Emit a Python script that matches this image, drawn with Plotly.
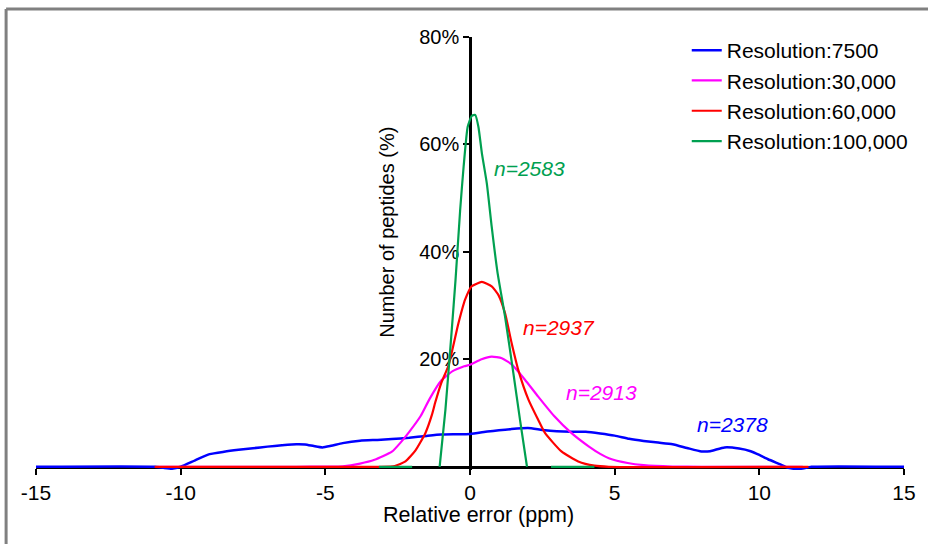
import plotly.graph_objects as go

# Mass-error distributions (percentage of peptides) per resolution setting
x_7500 = [-15, -10.9, -10.6, -10.3, -10.0, -9.5, -9.0, -8.5, -8.0, -7.5, -7.0, -6.5, -6.0, -5.7,
          -5.4, -5.1, -4.8, -4.4, -3.8, -3.2, -2.7, -2.1, -1.5, -1.0, -0.5, 0.0, 0.6, 1.0, 1.4,
          2.0, 2.5, 3.0, 3.5, 4.0, 4.5, 5.0, 5.5, 6.0, 6.5, 7.0, 7.5, 8.0, 8.3, 8.8, 9.3, 9.7,
          10.0, 10.3, 10.7, 11.0, 11.4, 11.8, 15]
y_7500 = [0, 0, -0.2, -0.35, 0.0, 1.2, 2.35, 2.8, 3.15, 3.45, 3.75, 4.0, 4.2, 4.15,
          3.85, 3.6, 3.9, 4.4, 4.85, 5.0, 5.15, 5.4, 5.75, 6.0, 6.05, 6.1, 6.55, 6.8, 7.0,
          7.2, 6.85, 6.6, 6.5, 6.5, 6.2, 5.8, 5.2, 4.8, 4.5, 4.2, 3.5, 2.85, 2.9, 3.6, 3.4, 2.9,
          2.2, 1.4, 0.5, -0.2, -0.4, 0, 0]

x_30000 = [-10.8, -6.0, -5.0, -4.4, -3.8, -3.3, -2.7, -2.4, -2.1, -1.7, -1.4, -1.0, -0.6, -0.2,
           0.0, 0.4, 0.75, 1.1, 1.45, 1.9, 2.35, 2.9, 3.5, 4.1, 4.5, 4.8, 5.45, 6.0, 7.0, 8.0, 11.5]
y_30000 = [0, 0, 0.05, 0.1, 0.6, 1.3, 2.8, 4.5, 6.5, 9.5, 12.6, 16.0, 17.8, 18.7,
           19.0, 20.0, 20.5, 20.2, 19.0, 16.2, 13.1, 9.5, 6.3, 3.8, 2.4, 1.6, 0.7, 0.3, 0.05, 0, 0]

x_60000 = [-10.9, -3.1, -2.6, -2.23, -1.89, -1.54, -1.32, -1.2, -1.0, -0.74, -0.4, -0.17, 0.06,
           0.41, 0.75, 0.98, 1.21, 1.44, 1.67, 2.02, 2.36, 2.59, 3.16, 3.74, 4.3, 4.8, 11.7]
y_60000 = [0, 0, 0.15, 1.0, 3.0, 6.3, 9.6, 12.0, 15.5, 18.9, 26.7, 31.1, 33.6,
           34.4, 33.6, 32.0, 28.6, 23.0, 18.0, 12.5, 8.7, 6.3, 2.85, 1.0, 0.2, 0, 0]

# empty cells leave gaps in the 100,000 line
x_100000 = [-3.15, -2.0, -1.5, -1.05, -0.85, -0.63, -0.5, -0.34, -0.22, -0.08, 0.06, 0.18, 0.29,
            0.41, 0.58, 0.75, 0.95, 1.21, 1.5, 1.73, 1.97, 2.4, 2.8, 4.3]
y_100000 = [0, 0, None, 0, 10.6, 25.5, 34.8, 47.8, 55.9, 63.3, 65.3, 65.5, 63.3,
            58.4, 52.8, 44.7, 36.2, 28.0, 17.4, 8.7, 0, None, 0, 0]

series_names = ["Resolution:7500", "Resolution:30,000", "Resolution:60,000", "Resolution:100,000"]
series_colors = ["#0000FF", "#FF00FF", "#FF0000", "#00A050"]
series_widths = [2.5, 2.2, 2.2, 2.2]
counts = ["n=2378", "n=2913", "n=2937", "n=2583"]
count_pos = [(9.08, 7.8), (4.53, 13.8), (3.08, 25.9), (2.05, 55.6)]

x_ticks = [-15, -10, -5, 0, 5, 10, 15]
x_ticktext = ["-15", "-10", "-5", "0", "5", "10", "15"]
y_ticks = [20, 40, 60, 80]
y_ticktext = ["20%", "40%", "60%", "80%"]

xs = [x_7500, x_30000, x_60000, x_100000]
ys = [y_7500, y_30000, y_60000, y_100000]

FONT = "Liberation Sans, Arial, sans-serif"
W, H = 928, 544
ML, MR, MT = 36, 21, 37
PX_PER_PCT = 5.375
Y_MIN = -0.6
zero_px = 467
MB = H - (zero_px - Y_MIN * PX_PER_PCT)
plot_h = H - MT - MB
plot_w = W - ML - MR
zero_frac = (-Y_MIN * PX_PER_PCT) / plot_h


def px_to_paper_x(px):
    return (px - ML) / plot_w


def px_to_paper_y(py):
    return (H - MB - py) / plot_h


fig = go.Figure()
for i in range(4):
    fig.add_trace(go.Scatter(
        x=xs[i], y=ys[i], mode="lines", name=series_names[i],
        legendgroup=series_names[i],
        line=dict(color=series_colors[i], width=series_widths[i], shape="spline", smoothing=0.5),
        connectgaps=False,
    ))

for i in range(4):
    fig.add_annotation(
        x=count_pos[i][0], y=count_pos[i][1], xref="x", yref="y", text="<i>" + counts[i] + "</i>",
        showarrow=False, font=dict(family=FONT, size=21, color=series_colors[i]),
        xanchor="center", yanchor="middle",
    )

# axis titles
fig.add_annotation(x=-2.876, y=43.7, xref="x", yref="y", text="Number of peptides (%)",
                   textangle=-90, showarrow=False, font=dict(family=FONT, size=20, color="black"),
                   xanchor="center", yanchor="middle")
fig.add_annotation(x=0.29, y=px_to_paper_y(515), xref="x", yref="paper",
                   text="Relative error (ppm)", showarrow=False,
                   font=dict(family=FONT, size=21.5, color="black"), xanchor="center", yanchor="middle")

# outer frame: top and left edges (the rest runs off the page)
frame = dict(color="#808080", width=3)
fig.add_shape(type="line", xref="paper", yref="paper",
              x0=px_to_paper_x(6), x1=px_to_paper_x(W + 50),
              y0=px_to_paper_y(9), y1=px_to_paper_y(9), line=frame, layer="below")
fig.add_shape(type="line", xref="paper", yref="paper",
              x0=px_to_paper_x(6), x1=px_to_paper_x(6),
              y0=px_to_paper_y(9), y1=px_to_paper_y(H + 50), line=frame, layer="below")

fig.update_layout(
    width=W, height=H,
    margin=dict(l=ML, r=MR, t=MT, b=MB, pad=0),
    paper_bgcolor="white", plot_bgcolor="white",
    showlegend=True,
    legend=dict(x=px_to_paper_x(689), y=px_to_paper_y(30), xanchor="left", yanchor="top",
                font=dict(family=FONT, size=21, color="black"), bgcolor="rgba(0,0,0,0)",
                itemwidth=30, tracegroupgap=0),
    xaxis=dict(range=[-15, 15], tickvals=x_ticks, ticktext=x_ticktext, ticks="outside", ticklen=6,
               tickwidth=2, tickcolor="black", showline=True, linecolor="black", linewidth=2.5,
               showgrid=False, zeroline=False, anchor="free", position=zero_frac,
               layer="below traces",
               tickfont=dict(family=FONT, size=21, color="black")),
    yaxis=dict(range=[Y_MIN, 80], tickvals=y_ticks, ticktext=y_ticktext, ticks="outside",
               ticklen=6, tickwidth=2, tickcolor="black", showline=True, linecolor="black",
               linewidth=2.5, showgrid=False, zeroline=False, anchor="free", position=0.5,
               layer="below traces",
               tickfont=dict(family=FONT, size=20, color="black")),
)

fig.write_html(
    "out.html",
    config={"displayModeBar": False},
    post_script="document.documentElement.style.overflow='hidden';document.body.style.overflow='hidden';",
)
